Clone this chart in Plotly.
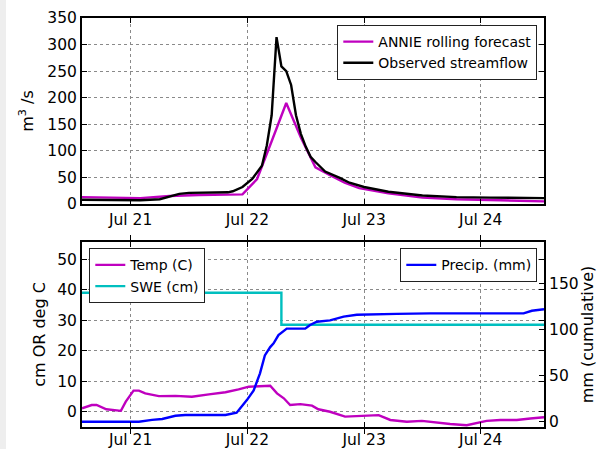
import pandas as pd
import plotly.graph_objects as go

# ---------------- data (hours since 2014-07-20 14:00) ----------------
start = pd.Timestamp("2014-07-20 14:00")
end = pd.Timestamp("2014-07-24 13:00")

annie_hours = [0, 6, 12, 18, 24, 33, 36, 39, 42, 45, 48, 51, 54, 57, 63, 70, 77, 86, 95]
annie_flow = [13, 12, 11, 15, 17, 18, 47, 118, 190, 125, 69, 54, 40, 30, 20, 12, 9, 7, 5]

obs_hours = [0, 12, 16, 18, 20, 22, 24, 30, 31, 33, 35, 36, 37, 38, 39, 40, 41, 42, 43,
             44, 45, 46, 47, 48, 50, 53, 55, 58, 63, 70, 77, 84, 95]
obs_flow = [8, 7, 9, 14, 19, 21, 21, 22, 24, 32, 47, 59, 72, 110, 167, 314, 259, 250, 224,
            167, 132, 108, 89, 79, 61, 49, 40, 32, 23, 16, 13, 12, 11]

temp_hours = [0, 2, 3, 5, 8, 9, 10.6, 11.7, 13, 15.8, 19.2, 22.6, 26.1, 29.5, 32.2, 34.3,
              38.7, 40.1, 41.5, 42.8, 44.9, 47.3, 48.6, 51, 54.1, 57.2, 59.2, 61, 63.4,
              66.8, 69.9, 72.3, 75.7, 79.1, 80.8, 83.2, 86, 89.4, 92.2, 95]
temp_c = [1.1, 2.2, 2.2, 0.8, 0.3, 3.3, 6.9, 6.9, 6.0, 5.1, 5.2, 4.9, 5.7, 6.4, 7.3, 8.2,
          8.5, 6.0, 4.4, 2.2, 2.5, 2.0, 0.8, 0.0, -1.6, -1.4, -1.1, -1.1, -2.7,
          -3.3, -3.0, -3.5, -4.0, -4.4, -3.8, -3.0, -2.7, -2.7, -2.2, -1.8]

swe_hours = [0, 41, 95]
swe_cm = [39.0, 28.5, 28.5]

precip_hours = [0, 11.7, 14.4, 16.5, 19.2, 21.2, 29.5, 31.8, 33.9, 35.3, 36.6, 37.6, 38.7,
                39.4, 40.4, 42.1, 45.9, 46.9, 48.3, 51, 53.8, 56.5, 64.7, 71.6, 90.8, 92.5, 95]
precip_mm = [0, 0, 2, 3, 6.5, 7.3, 7.3, 9.8, 23.5, 34, 52.5, 72, 81,
             85, 94, 101, 101, 105, 108.5, 110, 114, 116, 117, 117.6, 117.6, 120.4, 122]

tick_dates = ["2014-07-21", "2014-07-22", "2014-07-23", "2014-07-24"]
tick_labels = ["Jul 21", "Jul 22", "Jul 23", "Jul 24"]


def to_time(hours):
    return [start + pd.Timedelta(hours=h) for h in hours]


MAGENTA = "#bf00bf"
CYAN = "#00bfbf"
BLUE = "#0000ff"
BLACK = "#000000"
FONT = "DejaVu Sans"
LW = 2.4

fig = go.Figure()
fig.add_trace(go.Scatter(x=to_time(annie_hours), y=annie_flow, mode="lines",
                         name="ANNIE rolling forecast", line=dict(color=MAGENTA, width=LW),
                         xaxis="x", yaxis="y", legend="legend"))
fig.add_trace(go.Scatter(x=to_time(obs_hours), y=obs_flow, mode="lines",
                         name="Observed streamflow", line=dict(color=BLACK, width=LW),
                         xaxis="x", yaxis="y", legend="legend"))
fig.add_trace(go.Scatter(x=to_time(temp_hours), y=temp_c, mode="lines",
                         name="Temp (C)", line=dict(color=MAGENTA, width=LW),
                         xaxis="x2", yaxis="y2", legend="legend2"))
fig.add_trace(go.Scatter(x=to_time(swe_hours), y=swe_cm, mode="lines",
                         name="SWE (cm)", line=dict(color=CYAN, width=LW, shape="hv"),
                         xaxis="x2", yaxis="y2", legend="legend2"))
fig.add_trace(go.Scatter(x=to_time(precip_hours), y=precip_mm, mode="lines",
                         name="Precip. (mm)", line=dict(color=BLUE, width=LW),
                         xaxis="x2", yaxis="y3", legend="legend3"))

W, H = 597, 449
ML, MR, MT, MB = 82, 53, 18, 22
PW, PH = W - ML - MR, H - MT - MB


def py(pix):  # pixel y -> paper y
    return (H - MB - pix) / PH


def px(pix):
    return (pix - ML) / PW


axis_common = dict(showline=True, linecolor="black", linewidth=2, mirror="allticks",
                   ticks="inside", ticklen=5, tickcolor="black", tickwidth=1,
                   showgrid=True, gridcolor="#8a8a8a", griddash="dot", gridwidth=1,
                   zeroline=False, tickfont=dict(family=FONT, size=15.5, color="black"))

xcommon = dict(axis_common, type="date", range=[start, end],
               tickvals=tick_dates, ticktext=tick_labels)

legend_common = dict(font=dict(family=FONT, size=14, color="black"),
                     bgcolor="white", bordercolor="#222", borderwidth=1,
                     tracegroupgap=0)

fig.update_layout(
    width=W, height=H,
    margin=dict(l=ML, r=MR, t=MT, b=MB, autoexpand=False),
    paper_bgcolor="white", plot_bgcolor="white",
    font=dict(family=FONT, color="black"),
    xaxis=dict(xcommon, domain=[0, 1], anchor="y"),
    xaxis2=dict(xcommon, domain=[0, 1], anchor="y2", ticklabelstandoff=-3),
    yaxis=dict(axis_common, domain=[py(204), 1], anchor="x", range=[0, 350], dtick=50,
               title=dict(text="m<sup>3</sup> /s", font=dict(family=FONT, size=16),
                          standoff=10)),
    yaxis2=dict(axis_common, domain=[0, py(242)], anchor="x2", range=[-5, 55.6],
                tickvals=[0, 10, 20, 30, 40, 50],
                title=dict(text="cm OR deg C", font=dict(family=FONT, size=16),
                           standoff=8)),
    yaxis3=dict(axis_common, overlaying="y2", side="right", anchor="x2",
                range=[-5.7, 195], tickvals=[0, 50, 100, 150], showgrid=False,
                mirror=False,
                title=dict(text="mm (cumulative)", font=dict(family=FONT, size=16),
                           standoff=6)),
    legend=dict(legend_common, x=px(537.3), y=py(25), xanchor="right", yanchor="top"),
    legend2=dict(legend_common, x=px(89.3), y=py(248.3), xanchor="left", yanchor="top"),
    legend3=dict(legend_common, x=px(537.3), y=py(248.3), xanchor="right", yanchor="top"),
    showlegend=True,
    shapes=[dict(type="rect", xref="paper", yref="paper", x0=px(0), x1=px(6),
                 y0=py(H), y1=py(0), fillcolor="#eeeeee", line=dict(width=0),
                 layer="below")],
)

fig.write_html("out.html")
